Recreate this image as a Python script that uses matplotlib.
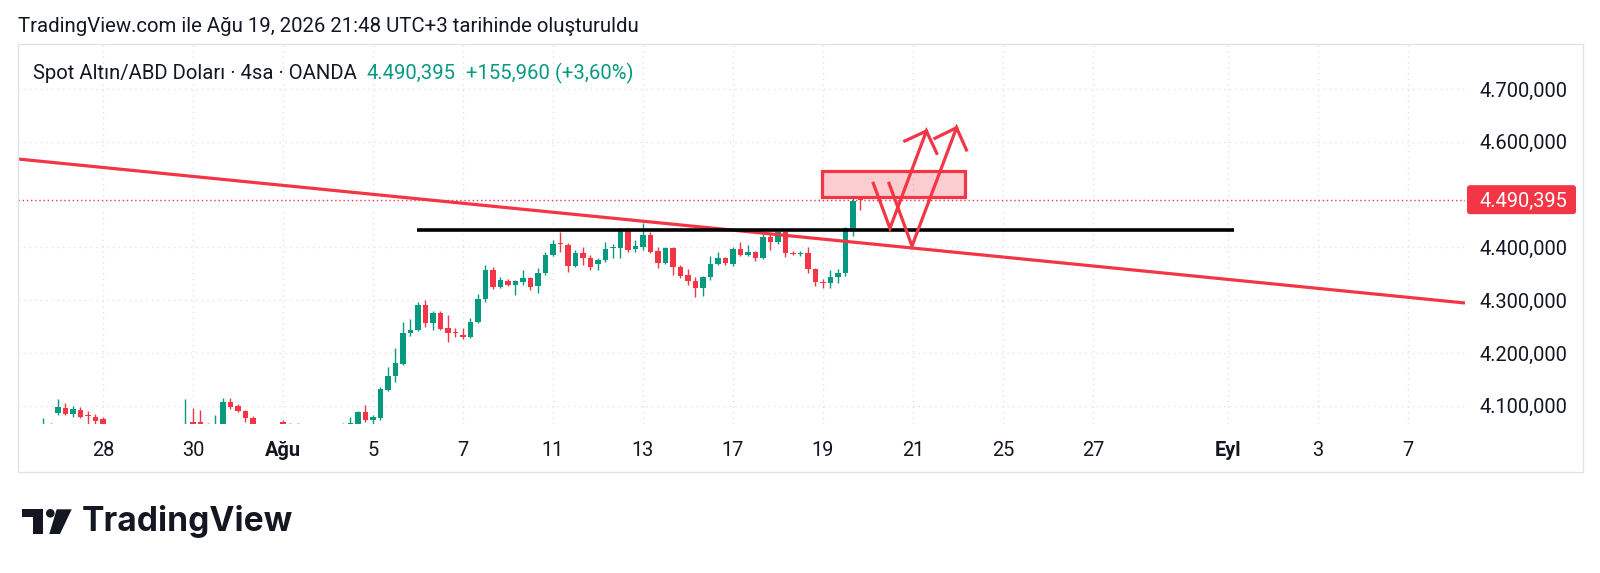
import numpy as np
import matplotlib
matplotlib.use("Agg")
import matplotlib.pyplot as plt
from matplotlib.patches import Polygon, Circle, FancyBboxPatch, Rectangle
from matplotlib.transforms import Affine2D

plt.rcParams['font.family'] = ['Roboto', 'DejaVu Sans']

# 4h candles (XAUUSD, OANDA), oldest first; the last bar is Aug 19, 21:00
opens = [4052, 4055, 4086, 4096, 4085, 4092, 4083, 4079, 4075, 4064,
         4055, 4048, 4040, 4045, 4052, 4043, 4050, 4056, 4049, 4054,
         4070, 4069, 4055, 4062, 4063, 4107, 4100, 4090, 4077, 4062,
         4050, 4045, 4069, 4060, 4055, 4050, 4046, 4040, 4050, 4056,
         4052, 4060, 4066, 4088, 4074, 4077, 4130, 4156, 4179, 4238,
         4244, 4291, 4257, 4276, 4247, 4239, 4234, 4230, 4259, 4302,
         4357, 4325, 4336, 4329, 4334, 4342, 4327, 4352, 4386, 4409,
         4404, 4365, 4389, 4380, 4369, 4376, 4398, 4399, 4433, 4397,
         4401, 4423, 4393, 4370, 4399, 4363, 4348, 4336, 4323, 4344,
         4369, 4380, 4369, 4397, 4386, 4391, 4380, 4420, 4410, 4429,
         4390, 4388, 4389, 4359, 4334.4, 4333, 4344, 4351, 4435, 4493]
highs = [4077, 4068, 4113, 4105, 4099, 4097, 4090, 4084, 4078, 4066,
         4062, 4055, 4050, 4058, 4060, 4054, 4062, 4064, 4060, 4113,
         4096, 4092, 4068, 4083, 4115, 4115, 4103, 4092, 4081, 4066,
         4060, 4058, 4073, 4068, 4068, 4062, 4058, 4055, 4062, 4064,
         4068, 4078, 4090, 4101, 4083, 4136, 4174, 4209, 4258, 4264,
         4296, 4300, 4280, 4280, 4272, 4247, 4247, 4266, 4312, 4366,
         4362, 4344, 4340, 4338, 4357, 4344, 4361, 4391, 4414, 4429,
         4408, 4395, 4400, 4385, 4380, 4410, 4406, 4436, 4437, 4414,
         4446, 4429, 4400, 4401, 4401, 4366, 4359, 4344, 4346, 4383,
         4391, 4382, 4401, 4410, 4404, 4393, 4427, 4427, 4431, 4431,
         4393, 4393, 4401, 4361, 4340, 4357, 4359, 4439, 4496, 4497]
lows = [4045, 4042, 4083, 4082, 4079, 4076, 4066, 4066, 4058, 4048,
        4044, 4036, 4030, 4038, 4040, 4034, 4044, 4046, 4041, 4048,
        4050, 4048, 4046, 4055, 4058, 4094, 4088, 4069, 4055, 4045,
        4038, 4036, 4050, 4048, 4045, 4040, 4035, 4032, 4042, 4046,
        4045, 4055, 4062, 4070, 4066, 4073, 4128, 4145, 4177, 4232,
        4242, 4249, 4243, 4243, 4221, 4230, 4226, 4228, 4257, 4296,
        4321, 4323, 4327, 4310, 4328, 4319, 4314, 4348, 4384, 4391,
        4353, 4363, 4366, 4357, 4357, 4372, 4380, 4380, 4391, 4391,
        4395, 4389, 4361, 4368, 4347, 4342, 4329, 4306, 4308, 4338,
        4366, 4367, 4364, 4384, 4384, 4374, 4378, 4395, 4406, 4382,
        4386, 4384, 4351, 4327, 4324, 4323, 4333, 4345, 4422, 4471]
closes = [4060, 4050, 4098, 4085, 4094, 4079, 4081, 4071, 4064, 4055,
          4048, 4040, 4045, 4052, 4043, 4050, 4056, 4049, 4054, 4062,
          4058, 4055, 4062, 4066, 4107, 4098, 4090, 4077, 4062, 4050,
          4045, 4055, 4060, 4055, 4050, 4046, 4040, 4050, 4056, 4052,
          4058, 4068, 4088, 4073, 4078, 4132, 4156, 4181, 4238, 4244,
          4291, 4257, 4276, 4245, 4238, 4237, 4230, 4259, 4302, 4357,
          4325, 4338, 4329, 4336, 4342, 4325, 4352, 4386, 4406, 4406,
          4365, 4389, 4380, 4363, 4376, 4397, 4400, 4433, 4395, 4403,
          4423, 4391, 4370, 4399, 4363, 4346, 4336, 4323, 4344, 4369,
          4380, 4370, 4397, 4386, 4391, 4380, 4420, 4410, 4429, 4389,
          4388, 4390, 4359, 4334.4, 4333, 4344, 4351, 4437, 4488, 4490.395]

# time axis: trading days counted from Jul 28 (6 bars a day)
last_bar_day = 16 + 5 / 6
bars_per_day = 6
day_ticks = [0, 2, 4, 6, 8, 10, 12, 14, 16, 18, 20, 22, 25, 27, 29]
day_labels = ["28", "30", "Ağu", "5", "7", "11", "13", "17", "19", "21",
              "25", "27", "Eyl", "3", "7"]
bold_labels = ["Ağu", "Eyl"]
# 4.500,000 is hidden behind the last-price tag
price_ticks = [4100, 4200, 4300, 4400, 4600, 4700]

# drawings (trading day, price)
trend_line = [(-1.889, 4567.4), (30.27, 4294.7)]
resistance = [(6.98, 4433.0), (25.13, 4433.0)]
target_zone = [(15.98, 4495.5), (19.16, 4544.7)]
path_one = [(17.12, 4521.4), (17.49, 4436.2), (18.30, 4620.4), (18.53, 4578.2)]
head_one = [(17.82, 4601.5), (18.30, 4620.4)]
path_two = [(17.47, 4521.4), (17.98, 4402.6), (18.97, 4626.7), (19.19, 4584.5)]
head_two = [(18.49, 4606.6), (18.97, 4626.7)]

title = "TradingView.com ile Ağu 19, 2026 21:48 UTC+3 tarihinde oluşturuldu"
symbol = "Spot Altın/ABD Doları · 4sa · OANDA"
last_txt = "4.490,395"
change_txt = "+155,960 (+3,60%)"

UP, DOWN = "#089981", "#F23645"
INK = "#131722"
GRID = "#E0E3EB"

W, H = 1600, 573
fig = plt.figure(figsize=(W / 100, H / 100), dpi=100)
px = Affine2D().scale(1, -1).translate(0, H)  # pixels from top-left


def fx(x):
    return x / W


def fy(y):
    return 1 - y / H


ax_l, ax_r, ax_t, ax_b = 18, 1465, 44, 423.5
ax = fig.add_axes([fx(ax_l), fy(ax_b), (ax_r - ax_l) / W, (ax_b - ax_t) / H])

o = np.array(opens)
h = np.array(highs)
lo = np.array(lows)
c = np.array(closes)
n = len(o)
x = last_bar_day - (n - 1 - np.arange(n)) / bars_per_day
col = np.where(c >= o, UP, DOWN)

ax.vlines(x, lo, h, colors=col, lw=1.0, zorder=3)
body = np.maximum(np.abs(c - o), 1.6)
ax.bar(x, body, bottom=np.minimum(o, c), width=0.7 / bars_per_day,
       color=col, edgecolor="none", zorder=4)

ax.set_xlim(-1.889, 30.27)
ax.set_ylim(4066.5, 4785.2)

# dotted grid
ax.set_xticks(day_ticks)
ax.set_xticklabels(day_labels)
ax.set_yticks(price_ticks)
ax.grid(True, color=GRID, lw=1.0, ls=(0, (1, 3)))
ax.set_axisbelow(True)
for s in ax.spines.values():
    s.set_visible(False)


def tr_fmt(v, pos=None):
    s = f"{v:,.3f}"
    return s.replace(",", "#").replace(".", ",").replace("#", ".")


ax.yaxis.tick_right()
ax.yaxis.set_major_formatter(tr_fmt)
ax.tick_params(axis="y", length=0, pad=(1567 - ax_r) * 0.72,
               labelsize=14.4, labelcolor=INK)
ax.tick_params(axis="x", length=0, pad=(449 - ax_b) * 0.72 - 6,
               labelsize=14.4, labelcolor=INK)
for lbl in ax.get_yticklabels():
    lbl.set_ha("right")
for lbl in ax.get_xticklabels():
    if lbl.get_text() in bold_labels:
        lbl.set_fontweight("bold")

# current price line
last = c[-1]
ax.axhline(last, color=DOWN, lw=1.0, ls=(0, (1, 2)), zorder=2)

# drawings
tx, ty = zip(*trend_line)
ax.plot(tx, ty, color=DOWN, lw=2.3, solid_capstyle="butt", zorder=5)
rx, ry = zip(*resistance)
ax.plot(rx, ry, color="black", lw=2.6, solid_capstyle="butt", zorder=5)
(zx0, zy0), (zx1, zy1) = target_zone
ax.add_patch(Rectangle((zx0, zy0), zx1 - zx0, zy1 - zy0, fc="#F23645",
                       alpha=0.25, ec="none", zorder=5))
ax.add_patch(Rectangle((zx0, zy0), zx1 - zx0, zy1 - zy0, fc="none",
                       ec=DOWN, lw=2.3, zorder=6))
for pts in (path_one, head_one, path_two, head_two):
    qx, qy = zip(*pts)
    ax.plot(qx, qy, color=DOWN, lw=2.3, solid_joinstyle="miter", zorder=7)

# price tag on the axis
y_last = H - ax.transData.transform((0, last))[1]
fig.add_artist(FancyBboxPatch((1467, y_last - 14.5), 109, 29,
                              boxstyle="round,pad=0,rounding_size=3",
                              fc=DOWN, ec="none", transform=px))
fig.text(fx(1567), fy(y_last), tr_fmt(last), ha="right", va="center_baseline",
         color="white", fontsize=14.4)

# pane border
fig.add_artist(Rectangle((17.5, 43.5), 1583 - 17.5, 472 - 43.5, fc="none",
                         ec=GRID, lw=1.0, transform=px))

# texts
fig.text(fx(18), fy(27), title, ha="left", va="center", fontsize=14.7, color=INK)
t1 = fig.text(fx(33), fy(73.5), symbol, ha="left", va="center",
              fontsize=14.6, color=INK)
t2 = fig.text(0, 0, last_txt, fontsize=14.6, color=UP, va="center")
t3 = fig.text(0, 0, change_txt, fontsize=14.6, color=UP, va="center")
renderer = fig.canvas.get_renderer()
bb = t1.get_window_extent(renderer)
t2.set_position((fx(bb.x1 + 10), fy(73.5)))
bb2 = t2.get_window_extent(renderer)
t3.set_position((fx(bb2.x1 + 10), fy(73.5)))

# TradingView logo
fig.add_artist(Polygon([(21.7, 509.3), (43.3, 509.3), (43.3, 534), (32.7, 534),
                        (32.7, 517.3), (21.7, 517.3)], closed=True,
                       fc=INK, ec="none", transform=px))
fig.add_artist(Circle((50.3, 513.3), 4.3, fc=INK, ec="none", transform=px))
fig.add_artist(Polygon([(56.7, 509.3), (71.7, 509.3), (60, 534), (49.3, 534)],
                       closed=True, fc=INK, ec="none", transform=px))
fig.text(fx(82), fy(521.5), "TradingView", ha="left", va="center",
         fontsize=24.2, fontweight="bold", family=["Inter", "DejaVu Sans"],
         color=INK)

fig.savefig("out.png", dpi=100, facecolor="white")
